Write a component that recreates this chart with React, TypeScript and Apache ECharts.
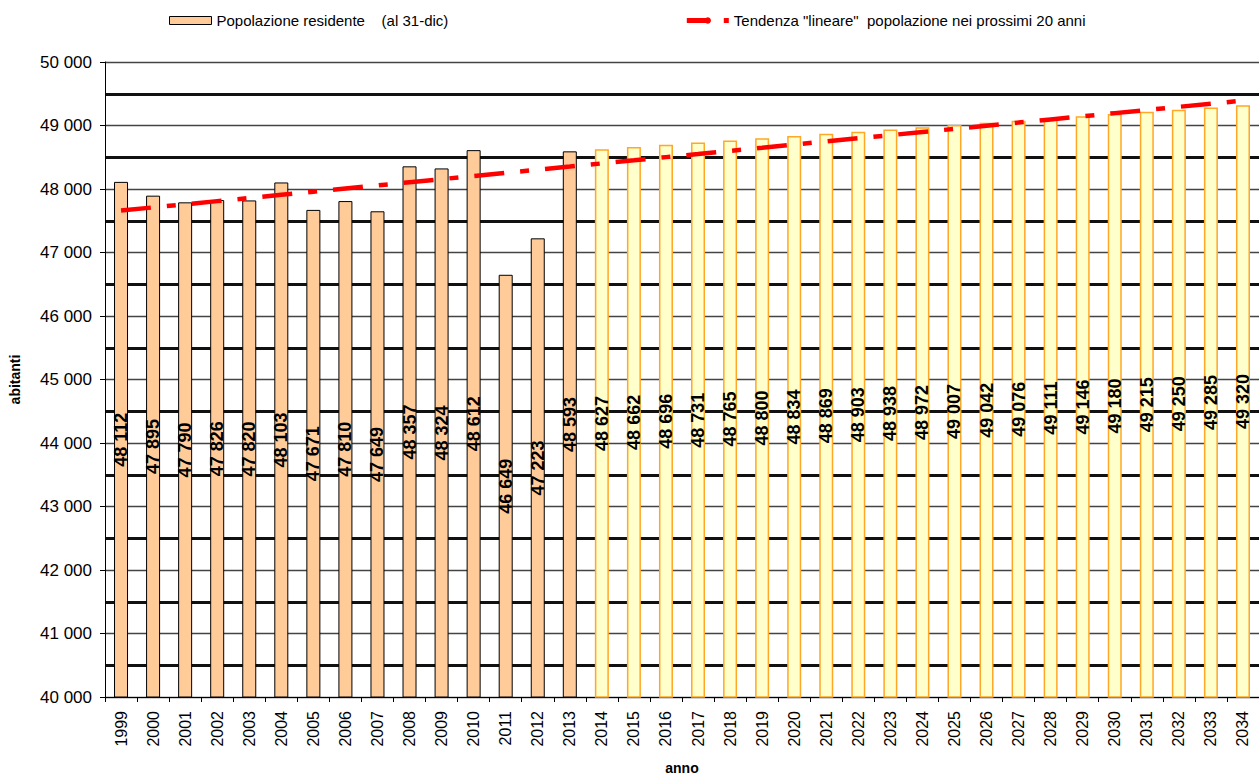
import React, { useEffect, useRef } from "react";
import * as echarts from "echarts";

const years = [
  "1999", "2000", "2001", "2002", "2003", "2004", "2005", "2006", "2007", "2008", "2009", "2010",
  "2011", "2012", "2013", "2014", "2015", "2016", "2017", "2018", "2019", "2020", "2021", "2022",
  "2023", "2024", "2025", "2026", "2027", "2028", "2029", "2030", "2031", "2032", "2033", "2034",
];

// Popolazione residente al 31-dic (1999-2013)
const residentValues = [
  48112, 47895, 47790, 47826, 47820, 48103, 47671, 47810, 47649, 48357, 48324, 48612, 46649, 47223, 48593,
];

// Proiezione (2014-2034)
const projectedValues = [
  48627, 48662, 48696, 48731, 48765, 48800, 48834, 48869, 48903, 48938, 48972, 49007, 49042, 49076,
  49111, 49146, 49180, 49215, 49250, 49285, 49320,
];

// Tendenza "lineare"
const trendValues = [
  47660, 47710, 47759, 47809, 47858, 47908, 47957, 48007, 48056, 48106, 48155, 48205, 48254, 48304,
  48353, 48403, 48452, 48502, 48551, 48601, 48650, 48700, 48749, 48799, 48848, 48898, 48947, 48997,
  49046, 49096, 49145, 49195, 49244, 49294, 49343, 49393,
];

const barName = "Popolazione residente    (al 31-dic)";
const trendName = 'Tendenza "lineare"  popolazione nei prossimi 20 anni';

const fmt = (v: number) => String(v).replace(/\B(?=(\d{3})+(?!\d))/g, " ");
const FONT = "'Liberation Sans', Arial, sans-serif";

export default function App() {
  const ref = useRef<HTMLDivElement>(null);
  useEffect(() => {
    if (!ref.current) return;
    const chart = echarts.init(ref.current, undefined, { renderer: "svg" });
    const barData = [
      ...residentValues.map((v) => ({
        value: v,
        itemStyle: { color: "#FFCC99", borderColor: "#000000", borderWidth: 1 },
      })),
      ...projectedValues.map((v) => ({
        value: v,
        itemStyle: { color: "#FFFFCC", borderColor: "#FFA726", borderWidth: 1.5 },
      })),
    ];
    chart.setOption({
      animation: false,
      backgroundColor: "#ffffff",
      textStyle: { fontFamily: FONT },
      legend: {
        top: 8,
        left: 164,
        itemGap: 236,
        itemWidth: 42,
        itemHeight: 8,
        textStyle: { fontSize: 15, color: "#000", fontFamily: FONT },
        data: [
          {
            name: barName,
            icon: "rect",
            itemStyle: { color: "#FFCC99", borderColor: "#000", borderWidth: 1 },
          },
          {
            name: trendName,
            lineStyle: { color: "#FF0000", width: 5, type: [23, 14, 5, 14] },
          },
        ],
      },
      grid: { left: 103, right: -6, top: 62, bottom: 82, containLabel: false },
      xAxis: {
        type: "category",
        data: years,
        boundaryGap: true,
        name: "anno",
        nameLocation: "middle",
        nameGap: 64,
        nameTextStyle: { fontSize: 14, fontWeight: "bold", color: "#000", fontFamily: FONT },
        axisLine: { lineStyle: { color: "#000", width: 1 } },
        axisTick: { show: true, alignWithLabel: false, length: 5, lineStyle: { color: "#000" } },
        axisLabel: { rotate: 90, fontSize: 16, color: "#000", margin: 14, interval: 0, fontFamily: FONT },
        splitLine: { show: false },
      },
      yAxis: {
        type: "value",
        min: 40000,
        max: 50000,
        interval: 1000,
        name: "abitanti",
        nameLocation: "middle",
        nameGap: 83,
        nameRotate: 90,
        nameTextStyle: { fontSize: 14, fontWeight: "bold", color: "#000", fontFamily: FONT },
        axisLine: { show: true, lineStyle: { color: "#000", width: 1 } },
        axisTick: { show: true, length: 5, lineStyle: { color: "#000" } },
        axisLabel: { fontSize: 17, color: "#000", margin: 13, formatter: (v: number) => fmt(v), fontFamily: FONT },
        splitLine: { show: true, lineStyle: { color: "#444", width: 1.3 } },
        minorTick: { show: false, splitNumber: 2 },
        minorSplitLine: { show: true, lineStyle: { color: "#111", width: 3 } },
      },
      series: [
        {
          name: barName,
          type: "bar",
          barWidth: 14,
          data: barData,
          z: 2,
          label: {
            show: true,
            position: "inside",
            rotate: 90,
            color: "#000",
            fontSize: 18,
            fontWeight: "bold",
            fontFamily: FONT,
            textBorderWidth: 0,
            formatter: (p: any) => fmt(p.value),
          },
        },
        {
          name: trendName,
          type: "line",
          data: trendValues,
          symbol: "none",
          showSymbol: false,
          z: 5,
          lineStyle: { color: "#FF0000", width: 4.5, type: [30, 16, 9, 16] },
          itemStyle: { color: "#FF0000" },
        },
      ],
    });
    return () => chart.dispose();
  }, []);
  return (
    <div
      ref={ref}
      style={{ position: "fixed", left: 0, top: 0, width: 1259, height: 780, background: "#fff" }}
    />
  );
}
